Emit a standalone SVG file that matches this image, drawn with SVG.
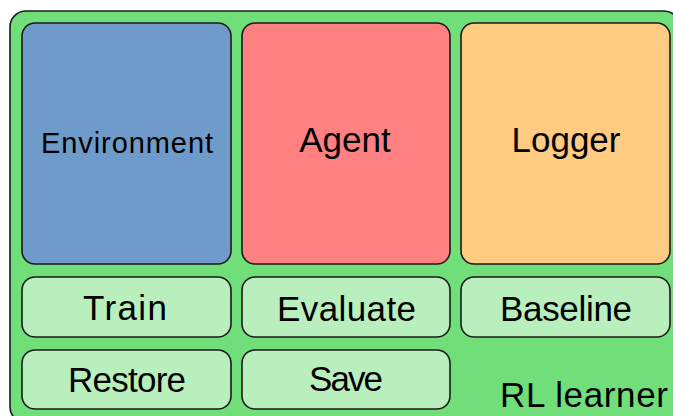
<svg xmlns="http://www.w3.org/2000/svg" width="673" height="416" viewBox="0 0 673 416">
  <style>
    .box { stroke: #1a1a1a; stroke-width: 1.6; }
    .outer { fill: #70df7a; }
    .env { fill: #6f9bca; }
    .agent { fill: #ff8080; }
    .logger { fill: #fecb80; }
    .btn { fill: #b9efbd; }
    text { font-family: "Liberation Sans", Arial, sans-serif; fill: #000; text-anchor: middle; }
    .big { font-size: 35px; }
    .mid { font-size: 35px; }
  </style>
  <rect width="673" height="416" fill="#ffffff"/>

  <g id="rl-learner">
    <rect class="box outer" x="10" y="11" width="670" height="412" rx="16"/>
    <text x="584" y="407" class="mid" textLength="168">RL learner</text>
  </g>

  <g id="environment">
    <rect class="box env" x="22" y="23" width="209" height="241" rx="13"/>
    <text x="127" y="153" style="font-size:29px" textLength="172">Environment</text>
  </g>
  <g id="agent">
    <rect class="box agent" x="242" y="23" width="208" height="241" rx="13"/>
    <text x="345" y="152" class="big">Agent</text>
  </g>
  <g id="logger">
    <rect class="box logger" x="461" y="23" width="209" height="241" rx="13"/>
    <text x="566" y="152" class="big">Logger</text>
  </g>

  <g id="train">
    <rect class="box btn" x="22" y="277" width="209" height="60" rx="13"/>
    <text x="125" y="320" class="mid" textLength="84">Train</text>
  </g>
  <g id="evaluate">
    <rect class="box btn" x="242" y="277" width="208" height="60" rx="13"/>
    <text x="346.5" y="321" class="mid" textLength="139">Evaluate</text>
  </g>
  <g id="baseline">
    <rect class="box btn" x="461" y="277" width="209" height="60" rx="13"/>
    <text x="566" y="321" class="mid" textLength="132">Baseline</text>
  </g>
  <g id="restore">
    <rect class="box btn" x="22" y="350" width="209" height="59" rx="13"/>
    <text x="127" y="392" class="mid" textLength="118">Restore</text>
  </g>
  <g id="save">
    <rect class="box btn" x="242" y="350" width="208" height="59" rx="13"/>
    <text x="346" y="391" class="mid" textLength="74">Save</text>
  </g>

  <g id="connectors"/>
</svg>
